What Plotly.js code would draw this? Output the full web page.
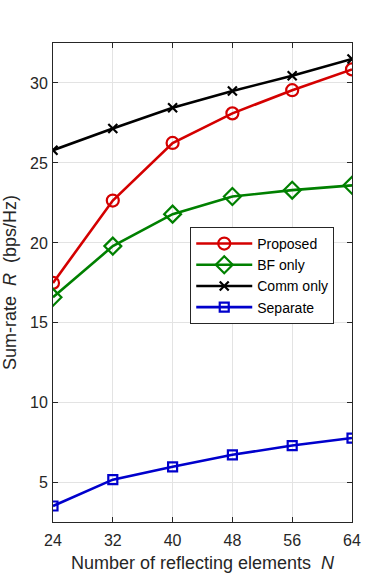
<!DOCTYPE html>
<html>
<head>
<meta charset="utf-8">
<script src="https://cdn.plot.ly/plotly-3.0.1.min.js"></script>
<style>html,body{margin:0;padding:0;background:#fff;}#chart{width:390px;height:586px;}</style>
</head>
<body>
<div id="chart"></div>
<script>
const N = [24, 32, 40, 48, 56, 64];
const proposed = [17.5, 22.65, 26.25, 28.1, 29.55, 30.85];
const bfOnly = [16.6, 19.8, 21.8, 22.9, 23.3, 23.6];
const commOnly = [25.8, 27.15, 28.45, 29.5, 30.45, 31.5];
const separate = [3.55, 5.2, 6.0, 6.75, 7.33, 7.8];
const names = ['Proposed', 'BF only', 'Comm only', 'Separate'];
const xTicks = [24, 32, 40, 48, 56, 64];
const yTicks = [5, 10, 15, 20, 25, 30];

const font = 'Liberation Sans, Arial, sans-serif';
function tr(y, name, color, symbol, size) {
  return {x: N, y: y, name: name, type: 'scatter', mode: 'lines+markers',
    line: {color: color, width: 2.6},
    marker: {symbol: symbol, size: size, color: color, line: {color: color, width: 2.2}}};
}
const data = [
  tr(proposed, names[0], '#d40000', 'circle-open', 12),
  tr(bfOnly, names[1], '#008000', 'diamond-open', 13),
  tr(commOnly, names[2], '#000000', 'x-thin-open', 9),
  tr(separate, names[3], '#0000cc', 'square-open', 9)
];
const axisCommon = {
  showline: true, linecolor: '#262626', linewidth: 1, mirror: 'ticks',
  ticks: 'inside', ticklen: 5, tickcolor: '#262626',
  showgrid: true, gridcolor: '#e3e3e3', gridwidth: 1, zeroline: false,
  tickfont: {family: font, size: 16, color: '#262626'}
};
const layout = {
  width: 390, height: 586,
  margin: {l: 52.5, r: 38, t: 43, b: 64},
  paper_bgcolor: '#fff', plot_bgcolor: '#fff',
  font: {family: font, color: '#262626'},
  xaxis: Object.assign({}, axisCommon, {
    range: [24, 64], tickvals: xTicks, ticktext: xTicks.map(String),
    ticklabelstandoff: 4,
    title: {text: 'Number of reflecting elements  <i>N</i>', font: {family: font, size: 18, color: '#262626'}, standoff: 8}
  }),
  yaxis: Object.assign({}, axisCommon, {
    range: [2.55, 32.5], tickvals: yTicks, ticktext: yTicks.map(String),
    ticklabelstandoff: 1,
    title: {text: 'Sum-rate  <i>R</i>  (bps/Hz)', font: {family: font, size: 18, color: '#262626'}, standoff: 8}
  }),
  legend: {
    x: 0.459, y: 0.616, xanchor: 'left', yanchor: 'top',
    bgcolor: '#fff', bordercolor: '#262626', borderwidth: 1,
    font: {family: font, size: 14, color: '#000'},
    tracegroupgap: 0, itemwidth: 56
  },
  showlegend: true
};
Plotly.newPlot('chart', data, layout, {displayModeBar: false, staticPlot: true});
</script>
</body>
</html>
